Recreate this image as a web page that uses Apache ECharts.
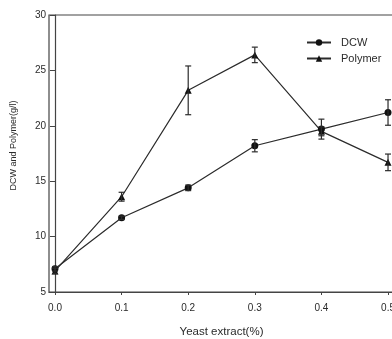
<!DOCTYPE html>
<html><head><meta charset="utf-8">
<script src="https://cdn.jsdelivr.net/npm/echarts@6/dist/echarts.min.js"></script>
<style>html,body{margin:0;padding:0;background:#fff;overflow:hidden;width:392px;height:339px}#c{width:420px;height:339px}</style>
</head><body><div id="c"></div>
<script>
var xs = [0, 0.1, 0.2, 0.3, 0.4, 0.5];
var dcw = [7.1, 11.7, 14.4, 18.2, 19.7, 21.2];
var dcwErr = [0.2, 0.15, 0.25, 0.55, 0.9, 1.15];
var polymer = [6.9, 13.6, 23.2, 26.4, 19.5, 16.7];
var polyErr = [0.25, 0.4, 2.2, 0.7, 0.4, 0.75];
var xTicks = [0, 0.1, 0.2, 0.3, 0.4, 0.5];
var yTicks = [5, 10, 15, 20, 25, 30];

var ink = '#2b2b2b';
function pairs(v) { return xs.map(function (x, i) { return [x, v[i]]; }); }
function errData(v, e) { return xs.map(function (x, i) { return [x, v[i] - e[i], v[i] + e[i]]; }); }
function errItem(params, api) {
  var lo = api.coord([api.value(0), api.value(1)]);
  var hi = api.coord([api.value(0), api.value(2)]);
  var w = 3;
  var st = { stroke: ink, lineWidth: 1.2 };
  return { type: 'group', children: [
    { type: 'line', shape: { x1: lo[0], y1: lo[1], x2: hi[0], y2: hi[1] }, style: st },
    { type: 'line', shape: { x1: lo[0] - w, y1: lo[1], x2: lo[0] + w, y2: lo[1] }, style: st },
    { type: 'line', shape: { x1: hi[0] - w, y1: hi[1], x2: hi[0] + w, y2: hi[1] }, style: st }
  ]};
}
var chart = echarts.init(document.getElementById('c'));
chart.setOption({
  animation: false,
  textStyle: { fontFamily: 'Liberation Sans, Arial, sans-serif' },
  grid: { left: 49, right: 8, top: 15, bottom: 47, outerBoundsMode: 'none', containLabel: false,
    show: true, borderColor: '#444', borderWidth: 1.2 },
  legend: {
    orient: 'vertical', left: 301, top: 32, itemWidth: 24, itemHeight: 8, itemGap: 5,
    textStyle: { color: ink, fontSize: 11, padding: [0, 0, 0, 5], fontFamily: 'Liberation Sans, Arial, sans-serif' },
    data: ['DCW', 'Polymer']
  },
  xAxis: {
    type: 'value', min: -0.009, max: 0.536,
    name: 'Yeast extract(%)', nameLocation: 'middle', nameGap: 34,
    nameTextStyle: { color: ink, fontSize: 11.5, padding: [0, 18, 0, 0] },
    axisLine: { lineStyle: { color: '#444', width: 1.2 } },
    axisTick: { customValues: xTicks, length: 3, lineStyle: { color: '#444' } },
    axisLabel: { customValues: xTicks, color: ink, fontSize: 10, margin: 11,
      formatter: function (v) { return v.toFixed(1); } },
    splitLine: { show: false }
  },
  yAxis: {
    type: 'value', min: 5, max: 30, interval: 5,
    name: 'DCW and Polymer(g/l)', nameLocation: 'middle', nameGap: 31, nameRotate: 90,
    nameTextStyle: { color: ink, fontSize: 9, padding: [0, 0, 0, 16] },
    axisLine: { show: true, lineStyle: { color: '#444', width: 1.2 } },
    axisTick: { show: true, length: 5, lineStyle: { color: '#444' } },
    axisLabel: { color: ink, fontSize: 10, margin: 3,
      formatter: function (v) { return yTicks.indexOf(v) >= 0 ? String(v) : ''; } },
    splitLine: { show: false }
  },
  series: [
    { name: 'DCW', type: 'line', data: pairs(dcw), symbol: 'circle', symbolSize: 7,
      lineStyle: { color: ink, width: 1.2 }, itemStyle: { color: '#111' }, z: 3 },
    { name: 'Polymer', type: 'line', data: pairs(polymer), symbol: 'triangle', symbolSize: 7,
      lineStyle: { color: ink, width: 1.2 }, itemStyle: { color: '#111' }, z: 3 },
    { type: 'custom', renderItem: errItem, data: errData(dcw, dcwErr), z: 4, silent: true },
    { type: 'custom', renderItem: errItem, data: errData(polymer, polyErr), z: 4, silent: true }
  ]
});
</script></body></html>
